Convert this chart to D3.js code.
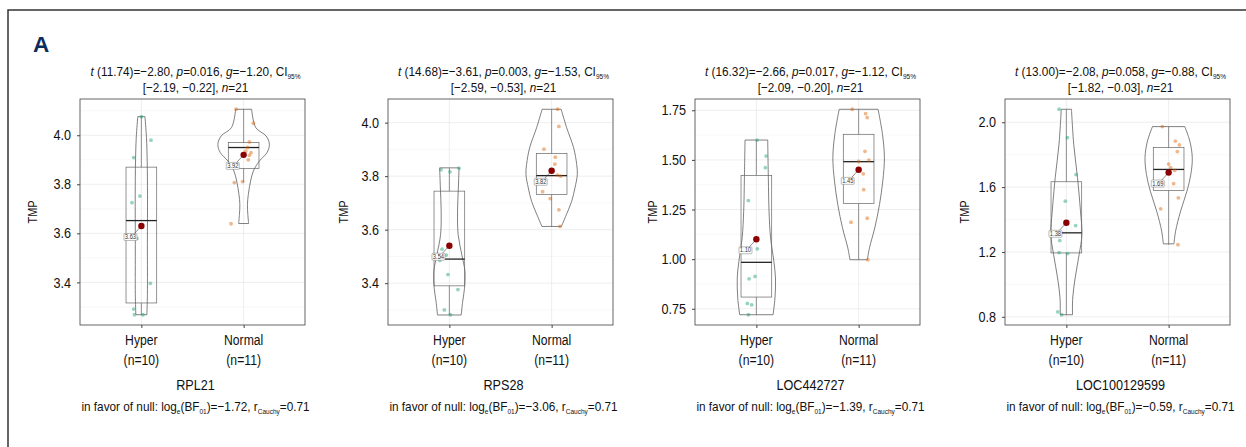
<!DOCTYPE html>
<html><head><meta charset="utf-8">
<script src="https://cdn.jsdelivr.net/npm/d3@7"></script>
<style>body{margin:0;background:#fff}svg{display:block}text{font-family:"Liberation Sans",Arial,sans-serif}</style>
</head><body>
<script>
// ---------------- data ----------------
const genes = ["RPL21", "RPS28", "LOC442727", "LOC100129599"];
const groups = ["Hyper", "Normal"];
const groupN = [10, 11];
const dfWelch = ["11.74", "14.68", "16.32", "13.00"];
const tStat = ["−2.80", "−3.61", "−2.66", "−2.08"];
const pVal = ["0.016", "0.003", "0.017", "0.058"];
const gHedges = ["−1.20", "−1.53", "−1.12", "−0.88"];
const ciLow = ["−2.19", "−2.59", "−2.09", "−1.82"];
const ciHigh = ["−0.22", "−0.53", "−0.20", "−0.03"];
const nTotal = [21, 21, 21, 21];
const logBF01 = ["−1.72", "−3.06", "−1.39", "−0.59"];
const rCauchy = ["0.71", "0.71", "0.71", "0.71"];
const yTicksP1 = [3.4, 3.6, 3.8, 4.0];
const yTicksP2 = [3.4, 3.6, 3.8, 4.0];
const yTicksP3 = [0.75, 1.00, 1.25, 1.50, 1.75];
const yTicksP4 = [0.8, 1.2, 1.6, 2.0];
// box stats [q1, median, q3]
const boxRPL21 = [[3.316, 3.652, 3.870], [3.865, 3.950, 3.970]];
const boxRPS28 = [[3.39, 3.49, 3.744], [3.731, 3.802, 3.885]];
const boxLOC442727 = [[0.809, 0.984, 1.422], [1.28, 1.491, 1.629]];
const boxLOC100129599 = [[1.194, 1.318, 1.633], [1.579, 1.709, 1.844]];
const meanRPL21 = [3.63, 3.92];
const meanRPS28 = [3.54, 3.82];
const meanLOC442727 = [1.10, 1.45];
const meanLOC100129599 = [1.38, 1.69];
// points [value, jitter (category units)]
const ptsRPL21Hyper = [[4.076,0],[3.980,0.094],[3.909,-0.075],[3.752,-0.014],[3.725,-0.092],[3.579,-0.043],[3.396,0.088],[3.291,-0.075],[3.268,-0.068],[3.268,0.016]];
const ptsRPL21Normal = [[4.106,-0.074],[4.049,0.095],[3.973,0.056],[3.950,0.039],[3.929,0.072],[3.918,0.056],[3.935,0.02],[3.90,0.045],[3.807,-0.091],[3.811,-0.01],[3.639,-0.123]];
const ptsRPS28Hyper = [[3.824,-0.082],[3.816,0.006],[3.830,0.094],[3.527,-0.072],[3.485,-0.092],[3.432,-0.014],[3.376,0.084],[3.30,-0.049],[3.282,0.01],[3.505,-0.03]];
const ptsRPS28Normal = [[4.05,0.059],[3.986,0.071],[3.901,-0.075],[3.871,0.036],[3.845,0.032],[3.804,0.056],[3.80,0.088],[3.742,-0.088],[3.716,-0.014],[3.674,0.071],[3.612,0.081]];
const ptsLOC442727Hyper = [[1.60,0.007],[1.519,0.095],[1.461,0.088],[1.295,-0.078],[1.052,0.01],[0.901,-0.071],[0.913,-0.013],[0.777,-0.088],[0.770,-0.045],[0.72,-0.078]];
const ptsLOC442727Normal = [[1.755,-0.063],[1.733,0.068],[1.713,0.084],[1.543,0.062],[1.492,0],[1.499,0.1],[1.43,0.045],[1.35,0.049],[1.186,-0.075],[1.206,0.084],[0.997,0.091]];
const ptsLOC100129599Hyper = [[2.08,-0.071],[1.905,0.01],[1.677,0.095],[1.513,-0.01],[1.363,0.091],[1.27,-0.065],[1.196,-0.071],[1.19,0.013],[0.831,-0.085],[0.813,-0.046]];
const ptsLOC100129599Normal = [[1.973,-0.062],[1.884,0.065],[1.86,0.105],[1.819,0.085],[1.742,0],[1.703,0.059],[1.621,0.049],[1.534,0.095],[1.466,-0.078],[1.245,0.091],[1.72,0.02]];
// violin half-widths [value, half width (category units)]
const vioRPL21Hyper = [[4.076,0.035],[3.990,0.05],[3.895,0.057],[3.759,0.06],[3.554,0.059],[3.350,0.059],[3.268,0.054]];
const vioRPL21Normal = [[4.106,0.078],[4.031,0.119],[3.997,0.22],[3.963,0.252],[3.929,0.228],[3.895,0.154],[3.854,0.095],[3.813,0.068],[3.759,0.046],[3.718,0.037],[3.677,0.041],[3.640,0.049]];
const vioRPS28Hyper = [[3.831,0.095],[3.756,0.088],[3.669,0.08],[3.581,0.086],[3.506,0.122],[3.444,0.152],[3.381,0.148],[3.331,0.13],[3.281,0.116]];
const vioRPS28Normal = [[4.05,0.093],[3.981,0.147],[3.906,0.215],[3.844,0.245],[3.806,0.251],[3.756,0.228],[3.706,0.196],[3.656,0.144],[3.612,0.095]];
const vioLOC442727Hyper = [[1.60,0.111],[1.41,0.117],[1.241,0.124],[1.107,0.139],[0.989,0.171],[0.905,0.187],[0.804,0.182],[0.72,0.163]];
const vioLOC442727Normal = [[1.755,0.19],[1.629,0.233],[1.511,0.252],[1.393,0.236],[1.275,0.204],[1.158,0.158],[1.057,0.106],[0.997,0.085]];
const vioLOC100129599Hyper = [[2.08,0.05],[1.864,0.072],[1.658,0.109],[1.452,0.138],[1.307,0.152],[1.184,0.125],[1.04,0.086],[0.916,0.062],[0.813,0.06]];
const vioLOC100129599Normal = [[1.973,0.158],[1.884,0.207],[1.782,0.231],[1.678,0.217],[1.575,0.179],[1.452,0.117],[1.328,0.068],[1.25,0.052]];

const panels = [
  {ticks: yTicksP1, fmt: ".1f", box: boxRPL21, mean: meanRPL21, pts: [ptsRPL21Hyper, ptsRPL21Normal], vio: [vioRPL21Hyper, vioRPL21Normal]},
  {ticks: yTicksP2, fmt: ".1f", box: boxRPS28, mean: meanRPS28, pts: [ptsRPS28Hyper, ptsRPS28Normal], vio: [vioRPS28Hyper, vioRPS28Normal]},
  {ticks: yTicksP3, fmt: ".2f", box: boxLOC442727, mean: meanLOC442727, pts: [ptsLOC442727Hyper, ptsLOC442727Normal], vio: [vioLOC442727Hyper, vioLOC442727Normal]},
  {ticks: yTicksP4, fmt: ".1f", box: boxLOC100129599, mean: meanLOC100129599, pts: [ptsLOC100129599Hyper, ptsLOC100129599Normal], vio: [vioLOC100129599Hyper, vioLOC100129599Normal]}
];

// ---------------- layout ----------------
const W = 1246, H = 447;
const plotLefts = [80, 388, 695, 1005];
const yTitleX = [33, 344, 653, 965];
const PW = 225, TOP = 99, BOTTOM = 325;
const ptColors = ["#1b9e77", "#d95f02"];
const TXT = "#111";

const svg = d3.select("body").append("svg").attr("width", W).attr("height", H);

// horizontal condensation factor (the reference uses a condensed face)
const probe = svg.append("text").attr("font-size", 13.5).text("t (11.74)=−2.80, p=0.016, g=−1.20, CI");
const K = 197 / probe.node().getComputedTextLength();
probe.remove();

// condensed text: a group placed at (x,y), scaled horizontally
function ctext(parent, x, y, size, anchor, rot) {
  const gg = parent.append("g").attr("transform", `translate(${x},${y})` + (rot ? ` rotate(${rot})` : "") + ` scale(${K},1)`);
  return gg.append("text").attr("x", 0).attr("y", 0).attr("font-size", size).attr("text-anchor", anchor || "middle").attr("fill", TXT);
}

// outer frame
svg.append("path").attr("d", `M8,${H} V10 H${W}`).attr("fill", "none").attr("stroke", "#333").attr("stroke-width", 1.5);

svg.append("text").attr("x", 33).attr("y", 52).attr("font-size", 22.5).attr("font-weight", 700)
  .attr("fill", "#0c2c5c").text("A");

panels.forEach((P, i) => {
  const left = plotLefts[i], right = left + PW;
  const cxText = left + PW / 2 + 3;
  const g = svg.append("g");
  const allVals = P.pts.flat().map(d => d[0]);
  const [lo, hi] = d3.extent(allVals);
  const pad = (hi - lo) * 0.05;
  const y = d3.scaleLinear().domain([lo - pad, hi + pad]).range([BOTTOM, TOP]);
  const x = d3.scalePoint().domain(groups).range([left, right]).padding(0.6);
  const step = x.step();

  // grid
  const st = P.ticks[1] - P.ticks[0];
  const minor = P.ticks.map(t => t - st / 2).concat([P.ticks[P.ticks.length - 1] + st / 2])
    .filter(v => v > y.domain()[0] && v < y.domain()[1]);
  g.selectAll(".mn").data(minor).join("line").attr("x1", left).attr("x2", right)
    .attr("y1", d => y(d)).attr("y2", d => y(d)).attr("stroke", "#f3f3f3").attr("stroke-width", 0.6);
  g.selectAll(".mj").data(P.ticks).join("line").attr("x1", left).attr("x2", right)
    .attr("y1", d => y(d)).attr("y2", d => y(d)).attr("stroke", "#e6e6e6").attr("stroke-width", 0.7);
  g.selectAll(".vx").data(groups).join("line").attr("x1", d => x(d)).attr("x2", d => x(d))
    .attr("y1", TOP).attr("y2", BOTTOM).attr("stroke", "#e6e6e6").attr("stroke-width", 0.7);

  groups.forEach((grp, k) => {
    const cx = x(grp);
    // violin
    const area = d3.area().y(d => y(d[0])).x0(d => cx - d[1] * step).x1(d => cx + d[1] * step)
      .curve(d3.curveCatmullRom);
    g.append("path").attr("d", area(P.vio[k])).attr("fill", "none").attr("stroke", "#555").attr("stroke-width", 0.75);
    // box
    const [q1, med, q3] = P.box[k];
    const iqr = q3 - q1;
    const vals = P.pts[k].map(d => d[0]);
    const wLo = d3.min(vals.filter(v => v >= q1 - 1.5 * iqr));
    const wHi = d3.max(vals.filter(v => v <= q3 + 1.5 * iqr));
    const bw = 0.3 * step;
    g.append("line").attr("x1", cx).attr("x2", cx).attr("y1", y(q3)).attr("y2", y(wHi)).attr("stroke", "#666").attr("stroke-width", 0.7);
    g.append("line").attr("x1", cx).attr("x2", cx).attr("y1", y(q1)).attr("y2", y(wLo)).attr("stroke", "#666").attr("stroke-width", 0.7);
    g.append("rect").attr("x", cx - bw / 2).attr("width", bw).attr("y", y(q3)).attr("height", y(q1) - y(q3))
      .attr("fill", "none").attr("stroke", "#666").attr("stroke-width", 0.7);
    g.append("line").attr("x1", cx - bw / 2).attr("x2", cx + bw / 2).attr("y1", y(med)).attr("y2", y(med))
      .attr("stroke", "#222").attr("stroke-width", 1.3);
    // points
    g.selectAll(null).data(P.pts[k]).join("circle").attr("cx", d => cx + d[1] * step).attr("cy", d => y(d[0]))
      .attr("r", 1.9).attr("fill", ptColors[k]).attr("fill-opacity", 0.45);
    // mean
    const mx = cx, my = y(P.mean[k]);
    const lr = mx - 4.4, lt = my + 7.5, lw = 13, lh = 7;
    g.append("line").attr("x1", mx).attr("y1", my).attr("x2", lr - 2.5).attr("y2", lt).attr("stroke", "#444").attr("stroke-width", 0.6);
    g.append("circle").attr("cx", mx).attr("cy", my).attr("r", 3.2).attr("fill", "#8b0000");
    g.append("rect").attr("x", lr - lw).attr("y", lt).attr("width", lw).attr("height", lh).attr("rx", 1)
      .attr("fill", "#fff").attr("stroke", "#777").attr("stroke-width", 0.5);
    ctext(g, lr - lw / 2, lt + lh / 2 + 2.1, 6.6).attr("fill", "#333").text(d3.format(".2f")(P.mean[k]));
  });

  // border
  g.append("rect").attr("x", left).attr("y", TOP).attr("width", PW).attr("height", BOTTOM - TOP)
    .attr("fill", "none").attr("stroke", "#555").attr("stroke-width", 0.9);

  // axes
  const ay = g.append("g").attr("transform", `translate(${left},0)`)
    .call(d3.axisLeft(y).tickValues(P.ticks).tickSize(3).tickPadding(6).tickFormat(d3.format(P.fmt)));
  ay.select(".domain").remove();
  ay.selectAll("line").attr("stroke", "#444");
  ay.selectAll("text").attr("font-size", 14.5).attr("fill", TXT).attr("font-family", null)
    .attr("x", -9 / K).attr("transform", `scale(${K},1)`);
  const ax = g.append("g").attr("transform", `translate(0,${BOTTOM})`)
    .call(d3.axisBottom(x).tickSize(3).tickFormat(""));
  ax.select(".domain").remove();
  ax.selectAll("text").remove();
  ax.selectAll("line").attr("stroke", "#444");

  groups.forEach((grp, k) => {
    ctext(g, x(grp), 345, 14).text(grp);
    ctext(g, x(grp), 365, 14).text(`(n=${groupN[k]})`);
  });

  // y title
  ctext(g, yTitleX[i] + 4, (TOP + BOTTOM) / 2, 12.5, "middle", -90).text("TMP");

  // title (subtitle)
  const t1 = ctext(g, cxText, 76, 13.5);
  t1.append("tspan").attr("font-style", "italic").text("t");
  t1.append("tspan").text(` (${dfWelch[i]})=${tStat[i]}, `);
  t1.append("tspan").attr("font-style", "italic").text("p");
  t1.append("tspan").text(`=${pVal[i]}, `);
  t1.append("tspan").attr("font-style", "italic").text("g");
  t1.append("tspan").text(`=${gHedges[i]}, CI`);
  t1.append("tspan").attr("font-size", 7.5).attr("dy", 3).text("95%");
  const t2 = ctext(g, cxText, 91.5, 13.5);
  t2.append("tspan").text(`[${ciLow[i]}, ${ciHigh[i]}], `);
  t2.append("tspan").attr("font-style", "italic").text("n");
  t2.append("tspan").text(`=${nTotal[i]}`);

  // x title
  ctext(g, cxText, 390, 14.5).text(genes[i]);
  // caption
  const c = ctext(g, cxText, 411, 13.5);
  c.append("tspan").text("in favor of null: log");
  c.append("tspan").attr("font-size", 7.5).attr("dy", 3).text("e");
  c.append("tspan").attr("dy", -3).text("(BF");
  c.append("tspan").attr("font-size", 7.5).attr("dy", 3).text("01");
  c.append("tspan").attr("dy", -3).text(`)=${logBF01[i]}, r`);
  c.append("tspan").attr("font-size", 7.5).attr("dy", 3).text("Cauchy");
  c.append("tspan").attr("dy", -3).text(`=${rCauchy[i]}`);
});
</script>
</body></html>
